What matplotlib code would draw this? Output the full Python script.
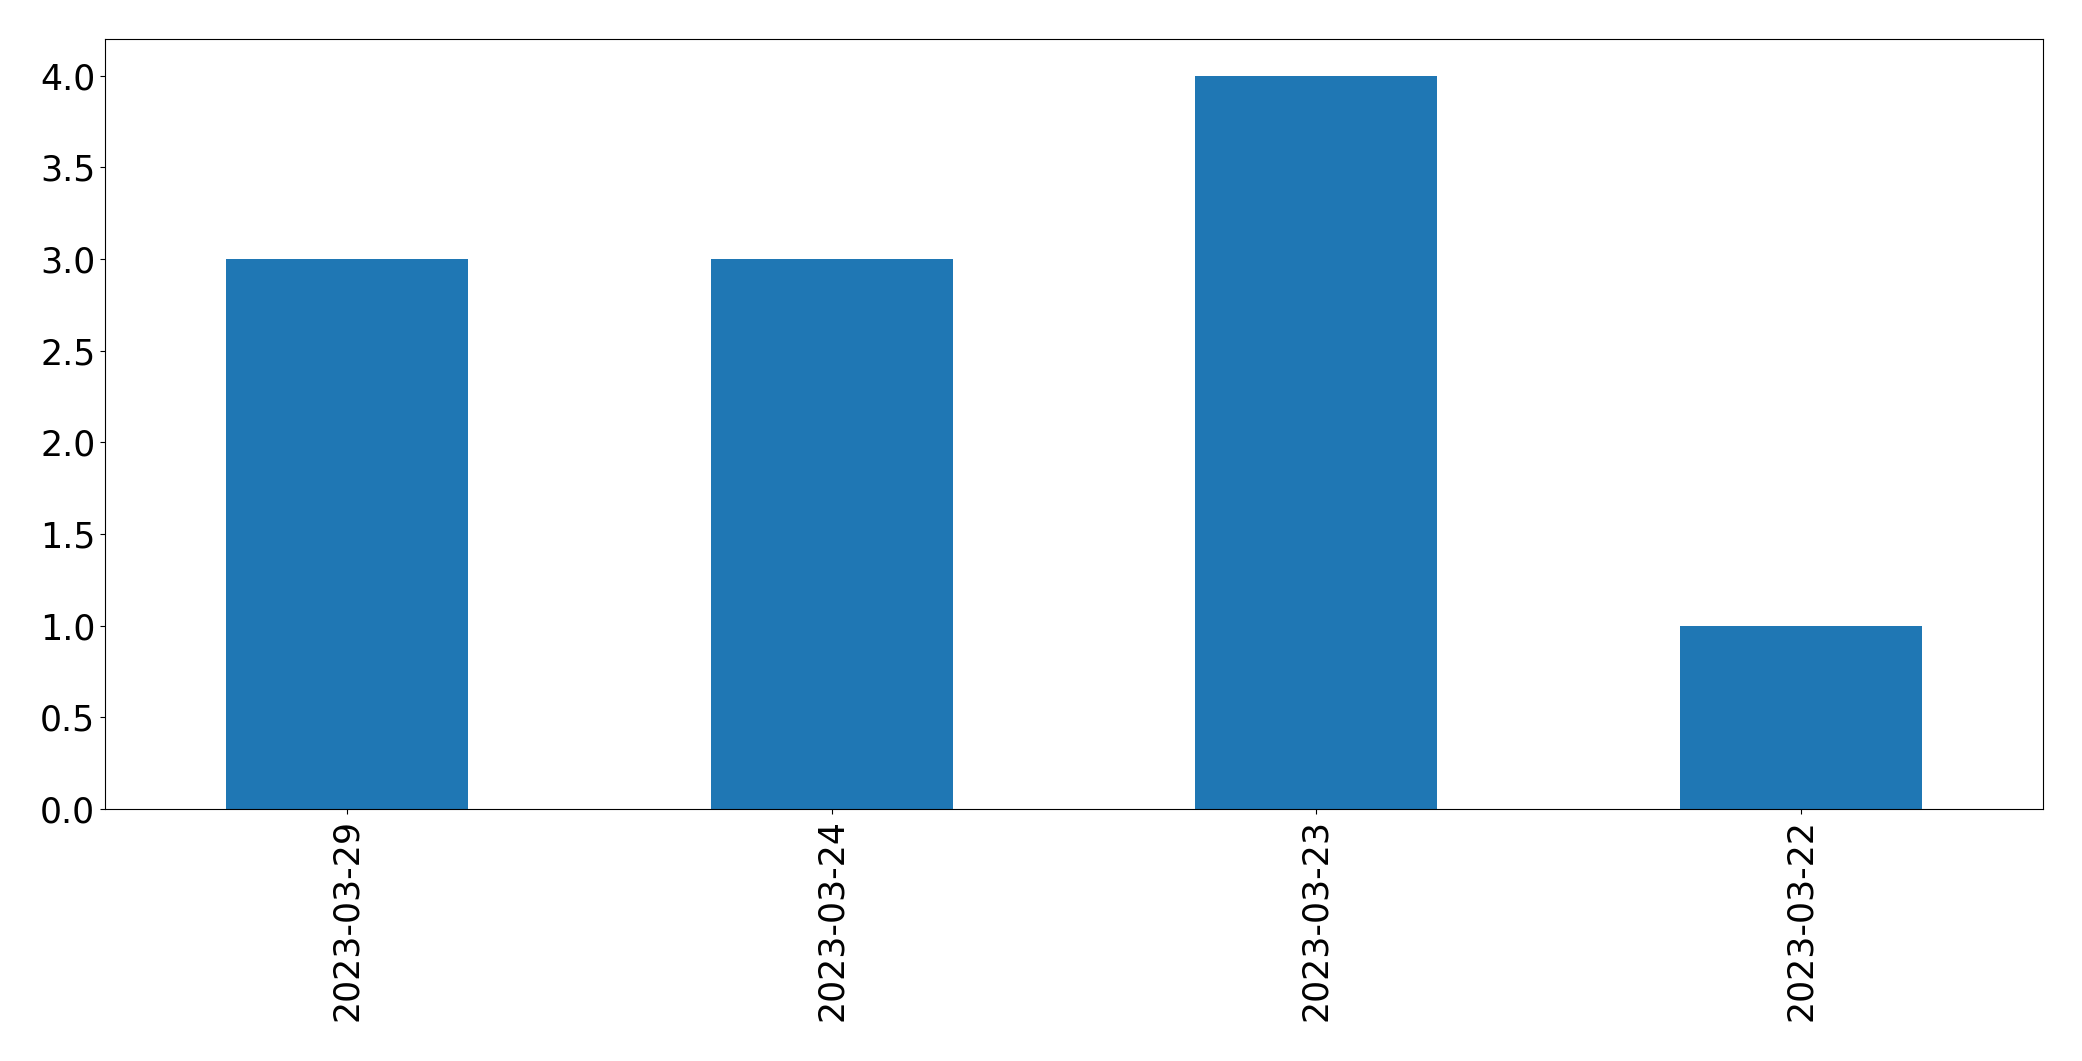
import matplotlib
matplotlib.use("Agg")
import matplotlib.pyplot as plt

dates = ["2023-03-29", "2023-03-24", "2023-03-23", "2023-03-22"]
counts = [3, 3, 4, 1]

fig = plt.figure(figsize=(20.82, 10.61), dpi=100)
ax = fig.add_axes([105 / 2082, 252 / 1061, 1938 / 2082, 770 / 1061])

x = range(len(dates))
ax.bar(x, counts, width=0.5, color="#1f77b4")
ax.set_xlim(-0.5, len(dates) - 0.5)
ax.set_ylim(0, max(counts) * 1.05)
ax.set_xticks(list(x))
ax.set_xticklabels(dates, rotation=90)
ax.tick_params(axis="both", labelsize=25)

fig.savefig("out.png", dpi=100)
